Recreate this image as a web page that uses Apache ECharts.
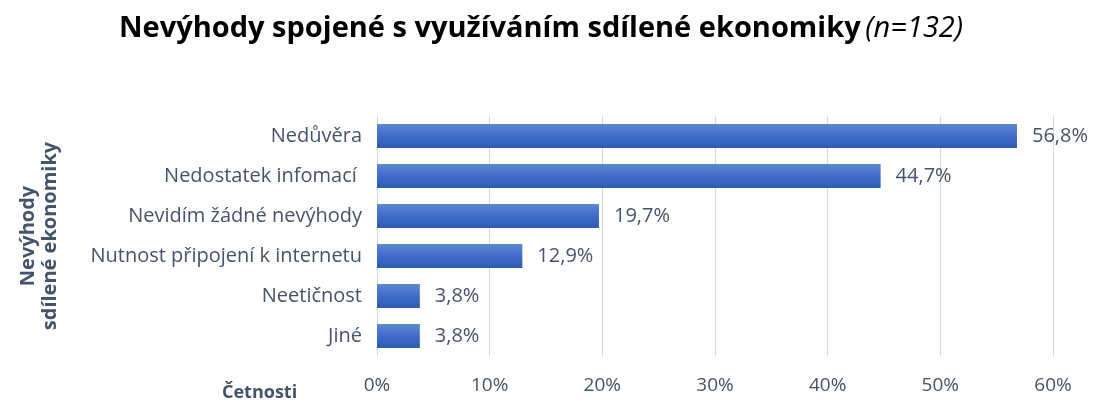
<!DOCTYPE html>
<html>
<head>
<meta charset="utf-8">
<script src="https://cdn.jsdelivr.net/npm/echarts@6/dist/echarts.min.js"></script>
<style>
  html, body { margin: 0; padding: 0; background: #fff; }
  #chart { width: 1098px; height: 408px; }
</style>
</head>
<body>
<div id="chart"></div>
<script>
  // categories top -> bottom
  var categories = ['Nedůvěra', 'Nedostatek infomací ', 'Nevidím žádné nevýhody', 'Nutnost připojení k internetu', 'Neetičnost', 'Jiné'];
  var values = [56.8, 44.7, 19.7, 12.9, 3.8, 3.8];
  var xTicks = [0, 10, 20, 30, 40, 50, 60];

  var font = 'Open Sans';
  var textColor = '#44546A';

  var chart = echarts.init(document.getElementById('chart'));
  chart.setOption({
    animation: false,
    textStyle: { fontFamily: font },
    title: {
      text: '{b|Nevýhody spojené s využíváním sdílené ekonomiky} {i|(n=132)}',
      left: 114,
      top: 9,
      textStyle: {
        fontWeight: 'normal',
        rich: {
          b: { fontFamily: font, fontSize: 29, fontWeight: 'bold', color: '#000' },
          i: { fontFamily: font, fontSize: 29, fontWeight: 'normal', fontStyle: 'italic', color: '#000' }
        }
      }
    },
    grid: { left: 377, right: 45, top: 116, bottom: 52, containLabel: false },
    xAxis: {
      type: 'value',
      min: xTicks[0],
      max: xTicks[xTicks.length - 1],
      interval: 10,
      axisLine: { show: false },
      axisTick: { show: false },
      axisLabel: { margin: 20, color: textColor, fontSize: 19, formatter: '{value}%' },
      splitLine: { lineStyle: { color: '#D9D9D9', width: 1 } }
    },
    yAxis: {
      type: 'category',
      data: categories,
      inverse: true,
      axisLine: { show: false },
      axisTick: { show: false },
      axisLabel: { margin: 15, color: textColor, fontSize: 20 },
      name: 'Nevýhody\nsdílené ekonomiky',
      nameLocation: 'middle',
      nameRotate: 90,
      nameGap: 316,
      nameTextStyle: { fontSize: 20, fontWeight: 'bold', color: textColor, align: 'center', lineHeight: 22 }
    },
    graphic: [{
      type: 'text',
      left: 222,
      top: 384,
      style: { text: 'Četnosti', fontFamily: font, fontSize: 18, fontWeight: 'bold', fill: textColor }
    }],
    series: [{
      type: 'bar',
      data: values,
      barWidth: 24,
      itemStyle: {
        color: new echarts.graphic.LinearGradient(0, 0, 0, 1, [
          { offset: 0, color: '#6087D3' },
          { offset: 0.5, color: '#3F6CC6' },
          { offset: 1, color: '#2C5AB5' }
        ])
      },
      label: {
        show: true,
        position: 'right',
        distance: 15,
        color: textColor,
        fontSize: 20,
        formatter: function (p) { return p.value.toFixed(1).replace('.', ',') + '%'; }
      }
    }]
  });
</script>
</body>
</html>
